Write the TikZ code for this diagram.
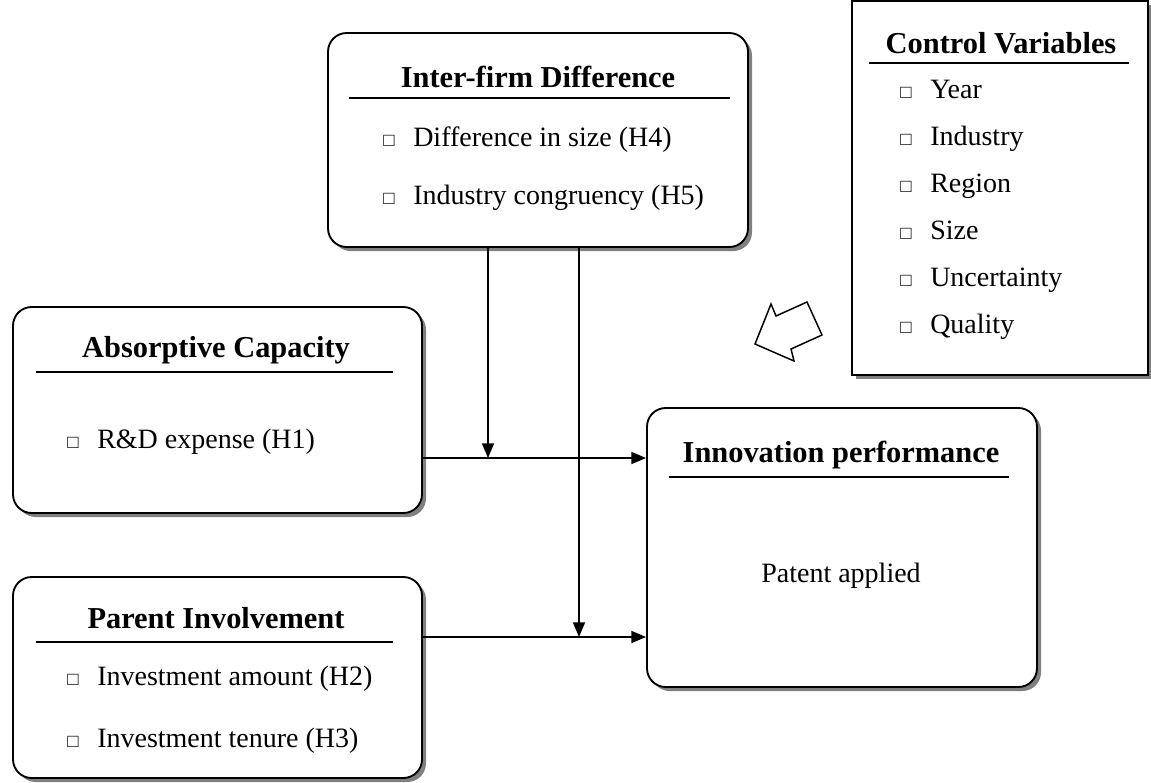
\documentclass[tikz,border=0pt]{standalone}
\usepackage{fontspec}
\setmainfont{Liberation Serif}
\usetikzlibrary{shadows,arrows.meta}
\newcommand\ttl{\fontsize{22.8}{26}\selectfont\bfseries}
\newcommand\itm{\fontsize{21}{24}\selectfont}
\newcommand\bul{\makebox[22.5pt][l]{\fontsize{14}{14}\selectfont □}}
\tikzset{
 box/.style={draw, line width=1.4pt, rounded corners=14pt, fill=white,
   drop shadow={shadow xshift=3pt, shadow yshift=-3pt, fill=black!50, opacity=1}, inner sep=0pt},
 sqbox/.style={box, rounded corners=0pt},
 ttlnode/.style={anchor=base, inner sep=0pt, font=\ttl},
 itmnode/.style={anchor=base west, inner sep=0pt, font=\itm},
 rule/.style={line width=1.3pt},
 arr/.style={line width=1.1pt, -{Triangle[length=11pt,width=9pt]}},
}
\begin{document}
\begin{tikzpicture}[x=0.75pt,y=-0.75pt]
\useasboundingbox (0,0) rectangle (1151,782);
% boxes
\node[box, minimum width=315pt, minimum height=160.5pt] (inter) at (538,140) {};
\node[box, minimum width=306.75pt, minimum height=154.5pt] (abs) at (217.5,410) {};
\node[box, minimum width=306.75pt, minimum height=150.75pt] (par) at (217.5,677.5) {};
\node[box, minimum width=292.5pt, minimum height=209.25pt] (inno) at (842,547.5) {};
\node[sqbox, minimum width=222pt, minimum height=280.5pt] (ctrl) at (1000,188) {};
% inter-firm
\node[ttlnode] (interT) at (538,87) {Inter-firm Difference};
\draw[rule] (349,98) -- (730,98);
\node[itmnode] (interA) at (383,146) {\bul Difference in size (H4)};
\node[itmnode] (interB) at (383,204) {\bul Industry congruency (H5)};
% absorptive
\node[ttlnode] (absT) at (216,357) {Absorptive Capacity};
\draw[rule] (36,372) -- (393,372);
\node[itmnode] (absA) at (67,448) {\bul R\&D expense (H1)};
% parent
\node[ttlnode] (parT) at (216,628) {Parent Involvement};
\draw[rule] (36,642) -- (393,642);
\node[itmnode] (parA) at (67,685) {\bul Investment amount (H2)};
\node[itmnode] (parB) at (67,747) {\bul Investment tenure (H3)};
% innovation
\node[ttlnode] (innoT) at (841,462) {Innovation performance};
\draw[rule] (669,477) -- (1009,477);
\node[anchor=base, inner sep=0pt, font=\itm] (innoA) at (841,582) {Patent applied};
% control
\node[ttlnode] (ctrlT) at (1001,53) {Control Variables};
\draw[rule] (869,63) -- (1129,63);
\node[itmnode] (c1) at (900,98) {\bul Year};
\node[itmnode] (c2) at (900,145) {\bul Industry};
\node[itmnode] (c3) at (900,192) {\bul Region};
\node[itmnode] (c4) at (900,239) {\bul Size};
\node[itmnode] (c5) at (900,286) {\bul Uncertainty};
\node[itmnode] (c6) at (900,333) {\bul Quality};
% connectors
\coordinate (r1) at (0,458);
\coordinate (r2) at (0,637);
\coordinate (v1) at (488,0);
\coordinate (v2) at (579,0);
\draw[arr] (abs.east |- r1) -- (inno.west |- r1);
\draw[arr] (par.east |- r2) -- (inno.west |- r2);
\draw[arr] (inter.south -| v1) -- (v1 |- r1);
\draw[arr] (inter.south -| v2) -- (v2 |- r2);
% hollow block arrow
\draw[line width=1.1pt, line join=miter, fill=white] (755,344) -- (771,304) -- (776,316) -- (807,302) -- (822,335) -- (791,349) -- (794,361) -- cycle;
\end{tikzpicture}
\end{document}
